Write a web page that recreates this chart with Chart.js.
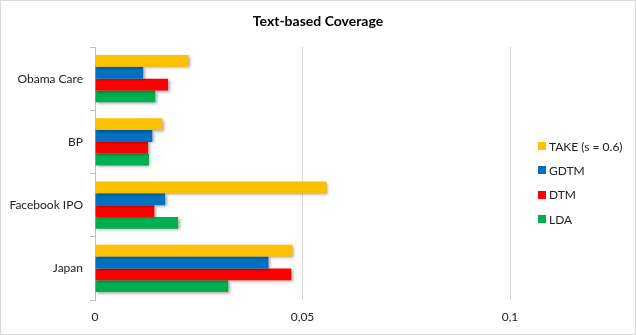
<!DOCTYPE html>
<html>
<head>
<meta charset="utf-8">
<script src="https://cdn.jsdelivr.net/npm/chart.js@4"></script>
<style>
  html, body { margin: 0; padding: 0; background: #fff; }
  #wrap { position: relative; width: 636px; height: 335px; }
  #frame { position: absolute; left: 0; top: 0; width: 636px; height: 335px; box-sizing: border-box; border: 1px solid #d9d9d9; pointer-events: none; }
  #title { position: absolute; left: 0; top: 12px; width: 636px; text-align: center; font-family: Lato, "Liberation Sans", sans-serif; font-size: 14px; font-weight: bold; color: #000; line-height: 17px; }
  #legend { position: absolute; left: 538px; top: 134px; font-family: Lato, "Liberation Sans", sans-serif; font-size: 12px; color: #222; }
  .item { height: 24.3px; display: flex; align-items: center; }
  .box { width: 8px; height: 8px; margin-right: 3px; }
</style>
</head>
<body>
<div id="wrap">
  <canvas id="c" width="636" height="335"></canvas>
  <div id="title">Text-based Coverage</div>
  <div id="legend"></div>
  <div id="frame"></div>
</div>
<script>
const categories = ["Obama Care", "BP", "Facebook IPO", "Japan"];
const seriesNames = ["TAKE (s = 0.6)", "GDTM", "DTM", "LDA"];
const takeValues = [0.0225, 0.0162, 0.0558, 0.0476];
const gdtmValues = [0.0116, 0.0138, 0.0169, 0.0418];
const dtmValues  = [0.0176, 0.0128, 0.0143, 0.0473];
const ldaValues  = [0.0145, 0.0130, 0.0200, 0.0321];
const xTickLabels = {"0": "0", "0.05": "0,05", "0.1": "0,1"};
const colors = ["#FFC000", "#0070C0", "#FF0000", "#00B050"];

const allValues = [takeValues, gdtmValues, dtmValues, ldaValues];
const FONT = 'Lato, "Liberation Sans", sans-serif';

const shadowPlugin = {
  id: 'barShadow',
  beforeDatasetsDraw(chart) {
    const ctx = chart.ctx;
    ctx.save();
    ctx.shadowColor = 'rgba(0,0,0,0.35)';
    ctx.shadowBlur = 3;
    ctx.shadowOffsetX = 1.5;
    ctx.shadowOffsetY = 1.5;
  },
  afterDatasetsDraw(chart) { chart.ctx.restore(); }
};

new Chart(document.getElementById('c'), {
  type: 'bar',
  data: {
    labels: categories,
    datasets: seriesNames.map((n, i) => ({
      label: n,
      data: allValues[i],
      backgroundColor: colors[i],
      borderWidth: 0,
      categoryPercentage: 0.75,
      barPercentage: 1.0
    }))
  },
  options: {
    indexAxis: 'y',
    responsive: false,
    animation: false,
    layout: { padding: { left: 0, right: 126, top: 47, bottom: 0 } },
    plugins: {
      legend: { display: false },
      tooltip: { enabled: false },
      title: { display: false }
    },
    scales: {
      x: {
        min: 0, max: 0.1,
        ticks: {
          stepSize: 0.05,
          color: '#222',
          font: { family: FONT, size: 12 },
          padding: 10,
          callback: (v) => xTickLabels[String(Math.round(v * 100) / 100)] ?? ''
        },
        grid: { color: '#d9d9d9', drawTicks: false, lineWidth: 1 },
        border: { display: false },
        afterFit(scale) { scale.height = 35; }
      },
      y: {
        ticks: {
          color: '#222',
          font: { family: FONT, size: 12 },
          padding: 7
        },
        grid: { drawOnChartArea: false, drawTicks: true, tickLength: 5, color: '#bfbfbf', offset: true },
        border: { display: true, color: '#bfbfbf' },
        afterFit(scale) { scale.width = 95; }
      }
    }
  },
  plugins: [shadowPlugin]
});

const legend = document.getElementById('legend');
seriesNames.forEach((n, i) => {
  const row = document.createElement('div');
  row.className = 'item';
  const b = document.createElement('span');
  b.className = 'box';
  b.style.background = colors[i];
  const t = document.createElement('span');
  t.textContent = n;
  row.appendChild(b); row.appendChild(t);
  legend.appendChild(row);
});
</script>
</body>
</html>
